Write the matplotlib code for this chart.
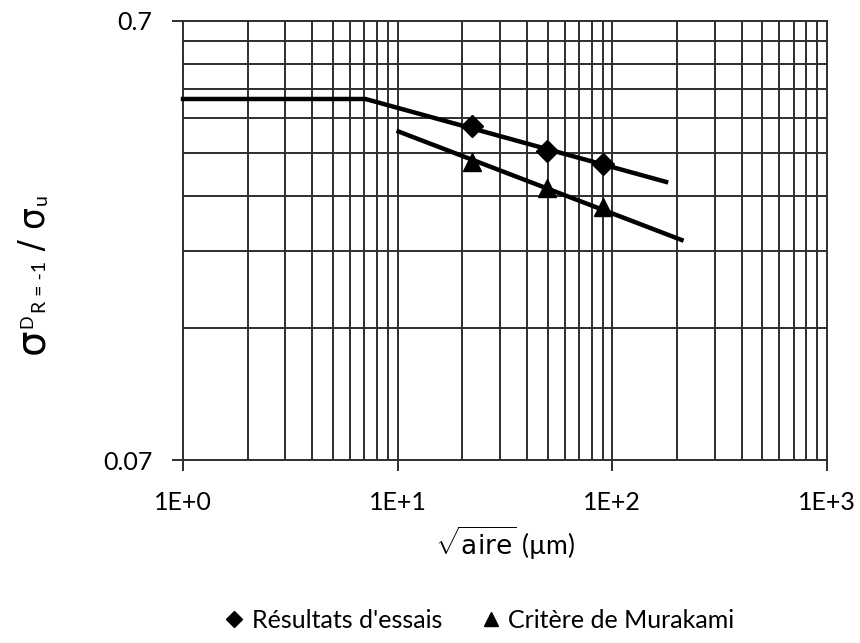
import matplotlib
matplotlib.use("Agg")
import matplotlib.pyplot as plt
from matplotlib.ticker import FixedLocator, NullLocator, FixedFormatter

plt.rcParams['font.family'] = ['Lato', 'DejaVu Sans']
plt.rcParams['mathtext.fontset'] = 'custom'
plt.rcParams['mathtext.rm'] = 'DejaVu Sans'
plt.rcParams['mathtext.it'] = 'DejaVu Sans'
plt.rcParams['mathtext.bf'] = 'DejaVu Sans:bold'

# Data
essais_x = [22.3, 49.7, 90.4]
essais_y = [0.404, 0.354, 0.331]
murakami_x = [22.3, 49.7, 90.4]
murakami_y = [0.3335, 0.2915, 0.2635]
fit_essais_x = [1.0, 7.08, 178.0]
fit_essais_y = [0.465, 0.465, 0.301]
fit_murakami_x = [10.1, 210.0]
fit_murakami_y = [0.392, 0.222]

x_major = [1, 10, 100, 1000]
x_major_labels = ["1E+0", "1E+1", "1E+2", "1E+3"]
y_major = [0.07, 0.7]
y_major_labels = ["0.07", "0.7"]

W, H = 860, 643
fig = plt.figure(figsize=(W / 100, H / 100), dpi=100)
ax = fig.add_axes([183 / W, 1 - 460 / H, (827 - 183) / W, (460 - 21) / H])
ax.set_xscale('log')
ax.set_yscale('log')
ax.set_xlim(1, 1000)
ax.set_ylim(0.07, 0.7)

# gridlines
grid_kw = dict(color='#2e2e2e', lw=1.4, zorder=1)
for d in [1, 10, 100]:
    for k in range(1, 10):
        v = d * k
        if 1 < v < 1000:
            ax.axvline(v, **grid_kw)
for k in range(2, 10):
    ax.axhline(0.07 * k, **grid_kw)

ax.plot(fit_essais_x, fit_essais_y, color='black', lw=3.2, zorder=3,
        solid_capstyle='projecting', clip_on=False)
ax.plot(fit_murakami_x, fit_murakami_y, color='black', lw=3.2, zorder=3,
        solid_capstyle='projecting')
ax.plot(essais_x, essais_y, linestyle='none', marker='D', ms=11,
        color='black', zorder=4, label="Résultats d'essais")
ax.plot(murakami_x, murakami_y, linestyle='none', marker='^', ms=13,
        color='black', zorder=4, label="Critère de Murakami")

ax.xaxis.set_major_locator(FixedLocator(x_major))
ax.xaxis.set_major_formatter(FixedFormatter(x_major_labels))
ax.xaxis.set_minor_locator(NullLocator())
ax.yaxis.set_major_locator(FixedLocator(y_major))
ax.yaxis.set_major_formatter(FixedFormatter(y_major_labels))
ax.yaxis.set_minor_locator(NullLocator())
ax.tick_params(axis='both', which='major', direction='out', length=8,
               width=1.4, color='#2e2e2e', labelsize=18, pad=14)

for s in ['left', 'bottom', 'top', 'right']:
    ax.spines[s].set_color('#2e2e2e')
    ax.spines[s].set_linewidth(1.4)

ax.set_xlabel(r'$\sqrt{\mathrm{aire}}$ (µm)', fontsize=19, labelpad=8)

# composed y label (rotated, reading bottom to top)
fig.canvas.draw()
renderer = fig.canvas.get_renderer()


def piece(s, size, x_base, y_start, family):
    t = fig.text(x_base / W, 1 - y_start / H, s, rotation=90,
                 rotation_mode='anchor', ha='left', va='baseline',
                 fontsize=size, family=family)
    bb = t.get_window_extent(renderer)
    return y_start - bb.height


y = 354
y = piece("σ", 29, 43, y, 'DejaVu Sans')
y_after_sigma = y
y = piece("D", 13, 32, y - 1, 'Lato')
y = piece("R = -1", 14, 46, y - 1, 'Lato')
y = piece(" / ", 24, 43, y, 'DejaVu Sans')
y = piece("σ", 25, 43, y, 'DejaVu Sans')
y = piece("u", 14, 47, y - 1, 'Lato')

fig.legend(loc='center', bbox_to_anchor=(480 / W, 1 - 620 / H), ncol=2,
           frameon=False, fontsize=18, handlelength=0.7,
           handletextpad=0.35, columnspacing=1.6, markerscale=0.75)

fig.savefig('out.png', dpi=100)
